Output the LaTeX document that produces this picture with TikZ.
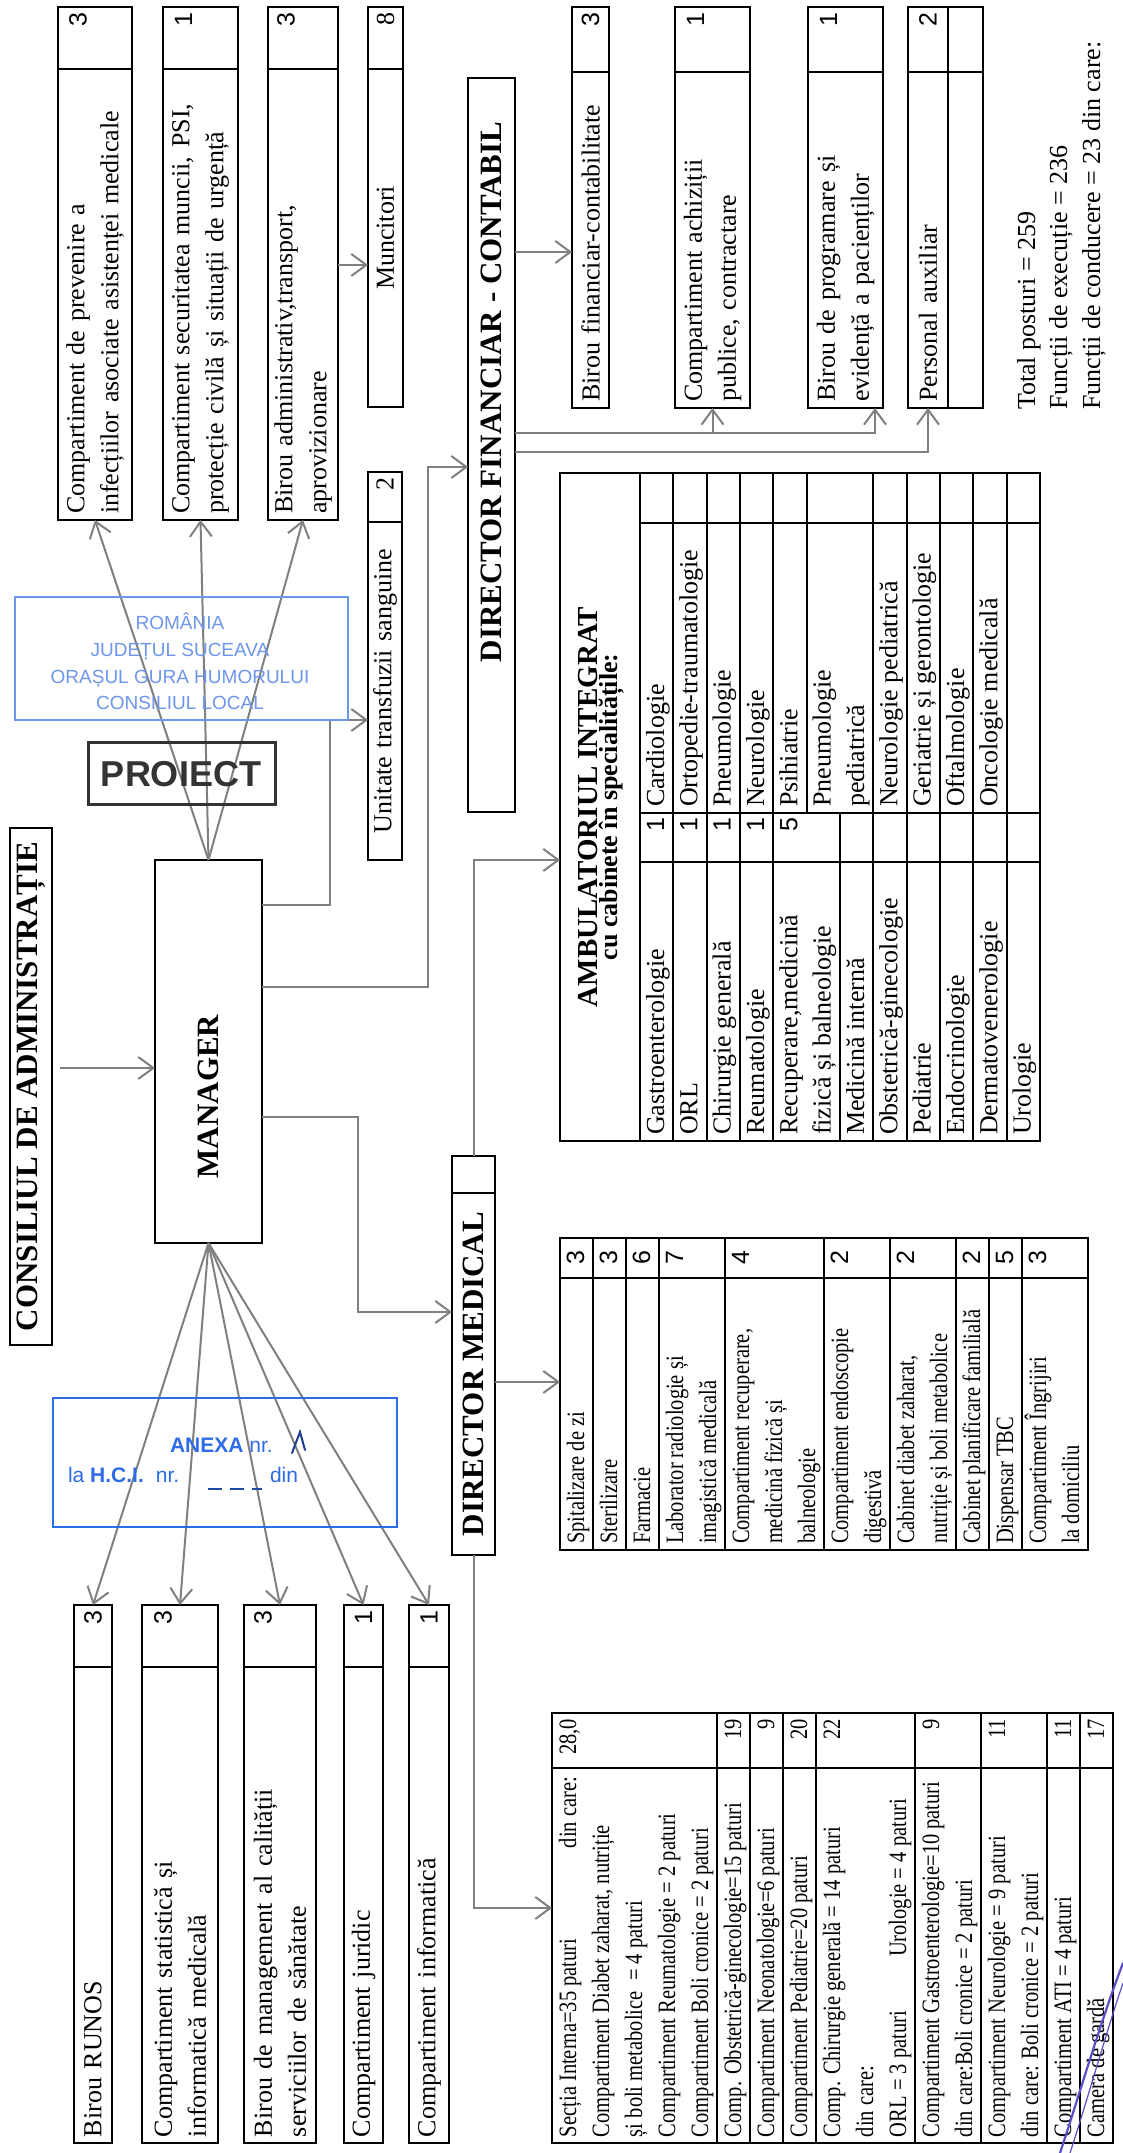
\documentclass[tikz,border=0pt]{standalone}
\usepackage{fontspec}
\setmainfont{Liberation Serif}
\newfontfamily\condfont[FakeStretch=0.82]{Liberation Serif}
\newfontfamily\sansf{Liberation Sans}
\usetikzlibrary{arrows.meta,calc}
\definecolor{lg}{HTML}{808080}
\definecolor{stb}{HTML}{2E6BE6}
\definecolor{stl}{HTML}{6E96EA}
\definecolor{sig}{HTML}{5B4FC8}
\newcommand\fB{\fontsize{26}{34}\selectfont}
\newcommand\fT{\fontsize{31}{36}\selectfont\bfseries}
\newcommand\fC{\condfont\fontsize{25}{33}\selectfont}
\newcommand\fN{\sansf\fontsize{25}{34}\selectfont}
\tikzset{
  cell/.style={draw=black, line width=2.4pt, inner xsep=6pt, inner ysep=0pt, outer sep=0pt, font=\fB, align=left},
  tcell/.style={draw=black, line width=2.6pt, inner sep=0pt, outer sep=0pt, font=\fT},
  conn/.style={draw=lg, line width=2pt},
  arr/.style={conn, -{Straight Barb[length=15pt,width=22pt]}},
  tline/.style={draw=black, line width=2.2pt},
  txt/.style={inner sep=0pt, outer sep=0pt, anchor=base west},
}
\newcommand\mybox[7][]{%
  \pgfmathsetmacro\bxw{#5-(#3)}%
  \pgfmathsetmacro\bxh{#6-(#4)}%
  \pgfmathsetmacro\bxt{#5-(#3)-12}%
  \pgfmathsetmacro\bxcx{(#3+#5)/2}%
  \pgfmathsetmacro\bxcy{-(#4+#6)/2}%
  \node[cell, minimum width=\bxw pt, minimum height=\bxh pt, text width=\bxt pt, #1] (#2) at (\bxcx,\bxcy) {#7};%
}
\newcommand\tbox[7][]{%
  \pgfmathsetmacro\bxw{#5-(#3)}%
  \pgfmathsetmacro\bxh{#6-(#4)}%
  \pgfmathsetmacro\bxcx{(#3+#5)/2}%
  \pgfmathsetmacro\bxcy{-(#4+#6)/2}%
  \node[tcell, minimum width=\bxw pt, minimum height=\bxh pt, #1] (#2) at (\bxcx,\bxcy) {#7};%
}
\begin{document}
\begin{tikzpicture}[x=1pt,y=1pt]
\useasboundingbox (0,0) rectangle (1123,2153);
\fill[white] (0,0) rectangle (1123,2153);
\begin{scope}[rotate=90, transform shape]
% ---------- titles ----------
\tbox{cons}{808}{10}{1325}{52}{CONSILIUL DE ADMINISTRAȚIE}
\tbox{mgr}{910}{155}{1293}{262}{MANAGER\hspace*{90pt}}
\tbox{dm}{598}{452}{960}{495}{DIRECTOR MEDICAL}
\tbox{dmx}{960}{452}{997}{495}{}
\tbox{df}{1341}{468}{2075}{515}{\hspace*{106pt}DIRECTOR FINANCIAR - CONTABIL}
% ---------- left boxes ----------
\mybox{runos}{10}{74}{486}{112}{Birou RUNOS}
\mybox[align=right,font=\fN]{runosn}{486}{74}{548}{112}{3}
\mybox{stat}{10}{142}{486}{218}{Compartiment statistică și\\informatică medicală}
\mybox[align=right,font=\fN]{statn}{486}{142}{548}{218}{3\\~}
\mybox{mgmt}{10}{244}{486}{316}{Birou de management al calității\\serviciilor de sănătate}
\mybox[align=right,font=\fN]{mgmtn}{486}{244}{548}{316}{3\\~}
\mybox{jur}{10}{344}{486}{383}{Compartiment juridic}
\mybox[align=right,font=\fN]{jurn}{486}{344}{548}{383}{1}
\mybox{inf}{10}{409}{486}{449}{Compartiment informatică}
\mybox[align=right,font=\fN]{infn}{486}{409}{548}{449}{1}
% ---------- top right boxes ----------
\mybox{prev}{1633}{58}{2084}{132}{Compartiment de prevenire a\\infecțiilor asociate asistenței medicale}
\mybox[align=right,font=\fN]{prevn}{2084}{58}{2146}{132}{3\\~}
\mybox{secur}{1633}{163}{2084}{238}{Compartiment securitatea muncii, PSI,\\protecție civilă și situații de urgență}
\mybox[align=right,font=\fN]{securn}{2084}{163}{2146}{238}{1\\~}
\mybox{admin}{1633}{268}{2084}{338}{Birou administrativ,transport,\\aprovizionare}
\mybox[align=right,font=\fN]{adminn}{2084}{268}{2146}{338}{3\\~}
\mybox[align=center]{munc}{1746}{368}{2084}{403}{Muncitori}
\mybox[align=right]{muncn}{2084}{368}{2146}{403}{8}
\mybox[align=center]{unit}{1293}{368}{1631}{402}{Unitate transfuzii sanguine}
\mybox[align=right]{unitn}{1631}{368}{1681}{402}{2}
% ---------- right column ----------
\mybox{fin}{1745}{572}{2081}{609}{Birou financiar-contabilitate}
\mybox[align=right,font=\fN]{finn}{2081}{572}{2146}{609}{3}
\mybox{ach}{1745}{675}{2081}{750}{Compartiment achiziții\\publice, contractare}
\mybox[align=right,font=\fN]{achn}{2081}{675}{2146}{750}{1\\~}
\mybox{prog}{1745}{808}{2081}{883}{Birou de programare și\\evidență a pacienților}
\mybox[align=right,font=\fN]{progn}{2081}{808}{2146}{883}{1\\~}
\mybox{aux}{1745}{908}{2081}{948}{Personal auxiliar}
\mybox[align=right,font=\fN]{auxn}{2081}{908}{2146}{948}{2}
\mybox{auxb}{1745}{948}{2081}{983}{}
\mybox{auxbn}{2081}{948}{2146}{983}{}
% ---------- totals ----------
\node[txt, font=\fB] (tp1) at (1743,-1035) {Total posturi = 259};
\node[txt, font=\fB] (tp2) at (1743,-1067) {Funcții de execuție = 236};
\node[txt, font=\fB] (tp3) at (1743,-1100) {Funcții de conducere = 23 din care:};
% ---------- Sectia table ----------
\mybox{sec}{10}{552}{440}{1113}{}
\draw[tline] (385,-552) -- (385,-1113);
\foreach \n in {5,6,7,8,11,13,15,16} \draw[tline] (10,{-(552+33*\n)}) -- (440,{-(552+33*\n)});
\foreach \j/\t in {1/Secția Interna=35 paturi,2/{Compartiment Diabet zaharat, nutriție},3/și boli metabolice \ = 4 paturi,4/Compartiment Reumatologie = 2 paturi,5/Compartiment Boli cronice = 2 paturi,6/Comp. Obstetrică-ginecologie=15 paturi,7/Compartiment Neonatologie=6 paturi,8/Compartiment Pediatrie=20 paturi,9/Comp. Chirurgie generală = 14 paturi,10/din care:,11/ORL = 3 paturi,12/Compartiment Gastroenterologie=10 paturi,13/din care:Boli cronice = 2 paturi,14/Compartiment Neurologie = 9 paturi,15/din care: Boli cronice = 2 paturi,16/Compartiment ATI = 4 paturi,17/Camera de gardă}
  \node[txt, font=\fC] (s\j) at (16,{-(543+33*\j)}) {\t};
\node[txt, anchor=base east, font=\fC] (sdc) at (376,-576) {din care:};
\node[txt, font=\fC] (suro) at (196,{-(543+33*11)}) {Urologie = 4 paturi};
\foreach \j/\t in {1/{28,0},6/19,7/9,8/20,9/22,12/9,14/11,16/11,17/17}
  \node[txt, anchor=base east, font=\fC] (sn\j) at (434,{-(543+33*\j)}) {\t};
% ---------- DM table ----------
\mybox{dmt}{603}{560}{915}{1088}{}
\draw[tline] (875,-560) -- (875,-1088);
\foreach \n in {1,2,3,5,8,10,12,13,14} \draw[tline] (603,{-(560+33*\n)}) -- (915,{-(560+33*\n)});
\foreach \j/\t in {1/Spitalizare de zi,2/Sterilizare,3/Farmacie,4/Laborator radiologie și,5/imagistică medicală,6/{Compartiment recuperare,},7/medicină fizică și,8/balneologie,9/Compartiment endoscopie,10/digestivă,11/{Cabinet diabet zaharat,},12/nutriție și boli metabolice,13/Cabinet planificare familială,14/Dispensar TBC,15/Compartiment Îngrijiri,16/la domiciliu}
  \node[txt, font=\fC] (d\j) at (609,{-(551+33*\j)}) {\t};
\foreach \j/\t in {1/3,2/3,3/6,4/7,6/4,9/2,11/2,13/2,14/5,15/3}
  \node[inner sep=0pt, anchor=base, font=\fN] (dn\j) at (895,{-(551+33*\j)}) {\t};
% ---------- Ambulatoriul table ----------
\mybox{amb}{1012}{560}{1680}{1040}{}
\foreach \k in {0,1,2,3,4,7,8,9,10,11} \draw[tline] (1012,{-(640+33.333*\k)}) -- (1680,{-(640+33.333*\k)});
\draw[tline] (1340,{-(640+33.333*5)}) -- (1680,{-(640+33.333*5)});
\draw[tline] (1012,{-(640+33.333*6)}) -- (1340,{-(640+33.333*6)});
\foreach \x in {1291,1340,1630} \draw[tline] (\x,-640) -- (\x,-1040);
\node[inner sep=0pt, align=center, font=\bfseries] (ambh) at (1346,-601) {{\fontsize{29}{34}\selectfont AMBULATORIUL INTEGRAT}\\{\fontsize{26}{34}\selectfont cu cabinete în specialitățile:}};
\foreach \i/\t in {1/Gastroenterologie,2/ORL,3/Chirurgie generală,4/Reumatologie,5/{Recuperare,medicină},6/fizică și balneologie,7/Medicină internă,8/Obstetrică-ginecologie,9/Pediatrie,10/Endocrinologie,11/Dermatovenerologie,12/Urologie}
  \node[txt, font=\fB] (aL\i) at (1018,{-(630.67+33.333*\i)}) {\t};
\foreach \i/\t in {1/Cardiologie,2/Ortopedie-traumatologie,3/Pneumologie,4/Neurologie,5/Psihiatrie,6/Pneumologie,7/pediatrică,8/Neurologie pediatrică,9/Geriatrie și gerontologie,10/Oftalmologie,11/Oncologie medicală}
  \node[txt, font=\fB] (aR\i) at (1346,{-(630.67+33.333*\i)}) {\t};
\foreach \i/\t in {1/1,2/1,3/1,4/1,5/5}
  \node[txt, anchor=base east, font=\fN] (aN\i) at (1335,{-(630.67+33.333*\i)}) {\t};
% ---------- helper x positions ----------
\coordinate (k1x) at (1085,0);
\coordinate (k2x) at (1036,0);
\coordinate (k2bx) at (841,0);
\coordinate (k3x) at (1248,0);
\coordinate (k3bx) at (1433,0);
\coordinate (k4x) at (1166,0);
\coordinate (k4bx) at (1686,0);
\coordinate (k5x) at (771,0);
\coordinate (k6x) at (245,0);
\coordinate (k7x) at (1293,0);
\coordinate (k9x) at (1888,0);
\coordinate (k10x) at (1901,0);
\coordinate (k11x) at (1720,0);
\coordinate (k12x) at (1701,0);
% ---------- connectors ----------
\draw[arr, shorten <=8pt] (cons.south -| k1x) -- (mgr.north -| k1x);
\draw[arr] (mgr.south -| k2x) -- ++(0,-96) -| (dm.north -| k2bx);
\draw[arr] (mgr.south -| k3x) -- ++(0,-68) -| (unit.north -| k3bx);
\draw[arr] (mgr.south -| k4x) -- ++(0,-166) -| (df.north -| k4bx);
\draw[arr] (dm.south -| k5x) -- (dmt.north -| k5x);
\draw[arr] (dm.west) -| (sec.north -| k6x);
\draw[arr] (dmx.east) -| (amb.north -| k7x);
\foreach \t in {runosn,statn,mgmtn,jurn,infn} \draw[arr] (mgr.west) -- (\t.east);
\foreach \t in {prev,secur,admin} \draw[arr] (mgr.east) -- (\t.west);
\draw[arr] (admin.south -| k9x) -- (munc.north -| k9x);
\draw[arr] (df.south -| k10x) -- (fin.north -| k10x);
\draw[arr] (df.south -| k11x) |- (ach.west);
\draw[arr] (df.south -| k11x) |- ($(prog.south west)+(0,8)$);
\draw[arr] (df.south -| k12x) |- (aux.west);
\end{scope}
% ---------- stamps (upright on the page) ----------
\draw[stb, line width=1.8pt] (53,626) rectangle (397,755);
\node[txt, text=stb, font=\sansf\fontsize{21}{24}\selectfont] (anx1) at (170,700) {\textbf{ANEXA} nr.};
\draw[stb!60!black, line width=2pt, line cap=round] (292,700) -- (300,721) -- (305,703);
\node[txt, text=stb, font=\sansf\fontsize{21}{24}\selectfont] (anx2) at (68,670) {la \textbf{H.C.I.}\hspace{12pt}nr.};
\draw[stb!70!black, line width=1.6pt, dash pattern=on 14pt off 8pt] (208,664) -- (262,664);
\node[txt, text=stb, font=\sansf\fontsize{21}{24}\selectfont] (anx3) at (270,670) {din};
\draw[stl, line width=1.4pt] (15,1433) rectangle (348,1556);
\node[inner sep=0pt, anchor=base, text=stl, font=\sansf\fontsize{19}{22}\selectfont] (ro1) at (180,1523) {ROMÂNIA};
\node[inner sep=0pt, anchor=base, text=stl, font=\sansf\fontsize{19}{22}\selectfont] (ro2) at (180,1496) {JUDEȚUL SUCEAVA};
\node[inner sep=0pt, anchor=base, text=stl, font=\sansf\fontsize{19}{22}\selectfont] (ro3) at (180,1469) {ORAȘUL GURA HUMORULUI};
\node[inner sep=0pt, anchor=base, text=stl, font=\sansf\fontsize{19}{22}\selectfont] (ro4) at (180,1443) {CONSILIUL LOCAL};
\draw[black!80, line width=3pt] (88,1348) rectangle (275,1410);
\node[inner sep=0pt, text=black!80, font=\sansf\bfseries\fontsize{36}{40}\selectfont] (pro) at (181,1379) {PROIECT};
\draw[sig, line width=2.2pt, line cap=round] (1060,0) .. controls (1080,60) and (1100,130) .. (1123,190);
\draw[sig, line width=1.2pt, line cap=round] (1070,0) .. controls (1088,55) and (1106,120) .. (1123,170);
\end{tikzpicture}
\end{document}
